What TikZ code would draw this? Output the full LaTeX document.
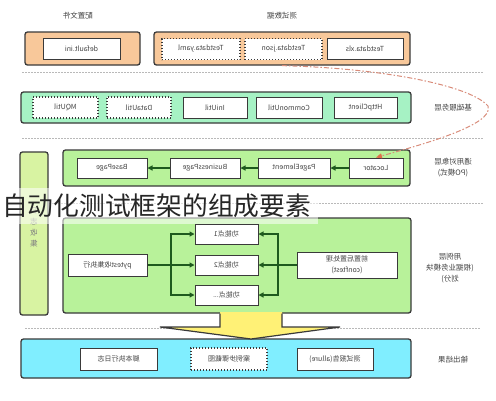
\documentclass[tikz,border=0pt]{standalone}
\usepackage{fontspec}
\setmainfont{Noto Sans CJK SC}
\usetikzlibrary{arrows.meta}
\definecolor{orng}{HTML}{F8C89A}
\definecolor{mint}{HTML}{A6F2C4}
\definecolor{lgreen}{HTML}{B8F29A}
\definecolor{barc}{HTML}{D8F3A2}
\definecolor{cyanc}{HTML}{80EEFF}
\definecolor{yel}{HTML}{FFF176}
\definecolor{bd}{HTML}{3A3A3A}
\definecolor{tx}{HTML}{444444}
\definecolor{arrc}{HTML}{1E5A1E}
\definecolor{redl}{HTML}{D98C7A}
\definecolor{redh}{HTML}{E0704A}
\newcommand{\mtxt}[1]{\reflectbox{#1}}
\newcommand{\mlines}[1]{\reflectbox{\begin{tabular}{@{}c@{}}#1\end{tabular}}}
\begin{document}
\begin{tikzpicture}[x=1pt,y=-1pt,
  outer/.style={draw=bd, line width=1.3pt, rounded corners=2.5pt, inner sep=0pt},
  ibox/.style={draw=bd, line width=1pt, fill=white, inner sep=0pt, text=tx,
    font=\fontsize{7}{11}\selectfont, minimum height=21},
  dbox/.style={ibox, dotted, line width=1.2pt},
  lab/.style={text=tx, inner sep=0pt, font=\fontsize{7.5}{11}\selectfont},
  sep/.style={draw=gray!55, line width=0.8pt, dash pattern=on 1.5pt off 1.5pt},
  ln/.style={draw=arrc, line width=1.2pt},
  arr/.style={ln, -{Triangle[length=5pt,width=5pt]}},
]
\useasboundingbox (0,0) rectangle (496,400);
\fill[white] (0,0) rectangle (496,400);

% separators
\draw[sep] (22,72) -- (483,72);
\draw[sep] (22,138) -- (483,138);
\draw[sep] (22,203) -- (483,203);
\draw[sep] (25,328) -- (480,328);

% top labels
\node[lab] (l1) at (78,16) {\mtxt{配置文件}};
\node[lab] (l2) at (282,16) {\mtxt{测试数据}};

% top row
\node[outer, fill=orng, minimum width=115, minimum height=33] (cfg) at (82.5,48.5) {};
\node[ibox, minimum width=77] (ini) at (81.5,48.5) {\mtxt{default.ini}};
\node[outer, fill=orng, minimum width=256, minimum height=33] (data) at (282,48.5) {};
\node[dbox, minimum width=78] (yaml) at (201,49) {\mtxt{Testdata.yaml}};
\node[dbox, minimum width=77] (json) at (283.5,49) {\mtxt{Testdata.json}};
\node[ibox, minimum width=76] (xls) at (365,49) {\mtxt{Testdata.xls}};

% row 2
\node[outer, fill=mint, minimum width=390, minimum height=31] (r2) at (216,107.5) {};
\node[dbox, minimum width=65] (mq) at (65.5,107.5) {\mtxt{MQUtil}};
\node[dbox, minimum width=64] (du) at (139,107.5) {\mtxt{DataUtil}};
\node[ibox, minimum width=64] (iu) at (215,107.5) {\mtxt{IniUtil}};
\node[ibox, minimum width=66] (cu) at (289,107.5) {\mtxt{CommonUtil}};
\node[ibox, minimum width=63] (hc) at (365.5,107.5) {\mtxt{HttpClient}};
\node[lab] (l3) at (453,108) {\mtxt{基础服务层}};

% left bar
\node[outer, fill=barc, minimum width=28, minimum height=163] (bar) at (34,233.5) {};
\node[lab, text=gray] (bart) at (34,227.5) {\mlines{日\\志\\收\\集}};

% row 3
\node[outer, fill=lgreen, minimum width=347, minimum height=36] (r3) at (236.5,168) {};
\node[ibox, minimum width=70, minimum height=20] (bp) at (112,168) {\mtxt{BasePage}};
\node[ibox, minimum width=70, minimum height=20] (bsp) at (205,168) {\mtxt{BusinessPage}};
\node[ibox, minimum width=72, minimum height=20] (pe) at (294,168) {\mtxt{PageElement}};
\node[ibox, minimum width=54, minimum height=20] (loc) at (376,168) {\mtxt{Locator}};
\node[lab] (l4) at (453,167.5) {\mlines{通用对象层\\(PO模式)}};
\draw[arr] (loc.west) -- (pe.east);
\draw[arr] (pe.west) -- (bsp.east);
\draw[arr] (bsp.west) -- (bp.east);

% row 4
\node[outer, fill=lgreen, minimum width=348, minimum height=95] (r4) at (237,265.5) {};
\node[ibox, minimum width=79, minimum height=22] (pyt) at (107.5,265) {\mtxt{pytest收集执行}};
\node[ibox, minimum width=63, minimum height=20] (f1) at (226.5,234) {\mtxt{功能点1}};
\node[ibox, minimum width=63, minimum height=20] (f2) at (226.5,265) {\mtxt{功能点2}};
\node[ibox, minimum width=63, minimum height=20] (f3) at (226.5,295) {\mtxt{功能点...}};
\node[ibox, minimum width=100, minimum height=26] (conf) at (347,265) {\mlines{前置后置处理\\(conftest)}};
\node[lab] (l5) at (450,268.5) {\mlines{用例层\\(根据业务模块\\划分)}};
\coordinate (lt) at (171,265);
\coordinate (rt) at (278,265);
\draw[ln] (pyt.east) -- (lt);
\draw[arr] (lt) |- (f1.west);
\draw[arr] (lt) -- (f2.west);
\draw[arr] (lt) |- (f3.west);
\draw[ln] (conf.west) -- (rt);
\draw[arr] (rt) |- (f1.east);
\draw[arr] (rt) -- (f2.east);
\draw[arr] (rt) |- (f3.east);

% row 5
\node[outer, fill=cyanc, minimum width=390, minimum height=39] (r5) at (216,358.5) {};
\node[ibox, minimum width=77, minimum height=22] (log) at (118.5,359) {\mtxt{脚本执行日志}};
\node[dbox, minimum width=76, minimum height=22] (shot) at (229,359) {\mtxt{案例步骤截图}};
\node[ibox, minimum width=76, minimum height=22] (rep) at (335,359) {\mtxt{测试报告(allure)}};
\node[lab] (l6) at (453,360) {\mtxt{输出结果}};

% big yellow arrow
\fill[yel] (220,312) -- (220,327) -- (160,327) -- (251,339) -- (340,327) -- (282,327) -- (282,312) -- cycle;
\draw[bd, line width=1.2pt, line join=miter] (220,313.6) -- (220,327) -- (160,327) -- (251,339) -- (340,327) -- (282,327) -- (282,313.6);

% red dashed curve
\draw[redl, line width=1pt, dash pattern=on 5pt off 2pt on 1.5pt off 2pt,
  -{Triangle[length=6pt,width=5pt,fill=redh,color=redh]}]
  (data.south) .. controls (380,68) and (470,85) .. (488,106)
  .. controls (495,125) and (420,145) .. (loc.north);

% title overlay
\fill[white, opacity=0.55] (0,188) rectangle (318,224);
\node[anchor=west, inner sep=0pt, text={black!85}, font=\fontsize{25.75}{30}\selectfont] (title) at (2,206) {自动化测试框架的组成要素};
\end{tikzpicture}
\end{document}
